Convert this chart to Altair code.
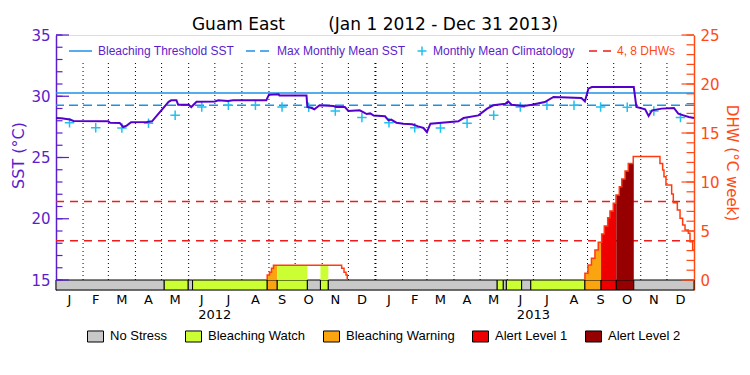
import altair as alt
import pandas as pd
from datetime import date

# ---------------- data ----------------
site = "Guam East"
period = "(Jan 1 2012 - Dec 31 2013)"

# SST (°C), day offset from Jan 1 2012
sst_day = [0, 6, 16, 20, 60, 62, 73, 77, 81, 86, 104, 110, 129, 132, 138, 140, 152, 155, 161, 182,
           186, 197, 203, 241, 244, 255, 256, 287, 288, 293, 296, 302, 318, 321, 331, 335, 348, 352,
           356, 360, 364, 377, 381, 384, 390, 398, 408, 415, 421, 425, 429, 442, 461, 467, 484, 494,
           501, 515, 518, 522, 536, 545, 560, 570, 602, 606, 610, 614, 662, 665, 675, 679, 683, 694,
           708, 713, 719, 725, 731]
sst_val = [28.22, 28.2, 28.1, 27.98, 27.95, 27.84, 27.82, 27.49, 27.6, 27.88, 27.9, 27.95, 29.55,
           29.67, 29.67, 29.3, 29.3, 29.12, 29.55, 29.58, 29.67, 29.62, 29.67, 29.67, 30.13, 30.16,
           30.07, 30.07, 29.12, 29.04, 28.93, 29.26, 29.2, 29.12, 29.12, 28.8, 28.85, 28.71, 28.55,
           28.6, 28.42, 28.36, 28.03, 28.1, 27.84, 27.76, 27.71, 27.54, 27.41, 27.08, 27.76, 27.84,
           27.95, 28.22, 28.44, 28.99, 29.26, 29.39, 29.58, 29.31, 29.2, 29.31, 29.53, 29.94, 29.86,
           29.58, 30.62, 30.75, 30.75, 29.12, 28.93, 28.39, 28.85, 28.99, 29.04, 28.58, 28.44, 28.31,
           28.22]

# monthly mean climatology (Jan..Dec)
clim_val = [27.84, 27.42, 27.41, 27.8, 28.44, 29.12, 29.26, 29.26, 29.12, 29.1, 28.8, 28.27]
mmm = 29.26
threshold = 30.26
dhw_levels = [4, 8]

# Degree heating weeks, step series
dhw12_day = [242, 242, 244.6, 246.9, 249.2, 327.3, 330, 332.3, 333.7]
dhw12_val = [0, 0.5, 0.8, 1.2, 1.5, 1.2, 0.8, 0.5, 0]
dhw13_day = [606, 606, 609.5, 613.5, 617.5, 621.3, 625.2, 628.2, 632.1, 634.7, 638.5, 641.6, 645.4,
             648.2, 652, 655.7, 661.4, 692, 695.1, 696.6, 698.9, 705.4, 707.3, 711.9, 715, 718,
             720.7, 724.5, 726.4, 729.5, 731]
dhw13_val = [0, 0.68, 1.53, 2.21, 3.06, 3.84, 4.69, 5.51, 6.36, 7.04, 7.82, 8.67, 9.52, 10.31,
             11.12, 11.9, 12.59, 11.9, 11.22, 10.54, 9.69, 8.78, 7.89, 7.14, 6.3, 5.61, 5.1, 4.77,
             3.91, 3.06, 3.06]

# stress level segments
stress_start = [0, 124, 151.5, 156.5, 242, 253.5, 288, 303, 312, 505.5, 512.5, 516, 533.5, 544,
                606, 624.5, 642, 662]
stress_cat = ["No Stress", "Bleaching Watch", "No Stress", "Bleaching Watch", "Bleaching Warning",
              "Bleaching Watch", "No Stress", "Bleaching Watch", "No Stress", "Bleaching Watch",
              "No Stress", "Bleaching Watch", "No Stress", "Bleaching Watch", "Bleaching Warning",
              "Alert Level 1", "Alert Level 2", "No Stress"]
stress_end = stress_start[1:] + [731]

cats = ["No Stress", "Bleaching Watch", "Bleaching Warning", "Alert Level 1", "Alert Level 2"]
cat_colors = ["#C8C8C8", "#CCFF33", "#FAA50F", "#EE0000", "#960000"]

month_letters = ["J", "F", "M", "A", "M", "J", "J", "A", "S", "O", "N", "D"]
years = [2012, 2013]
sst_ticks_minor = list(range(15, 36))
sst_ticks_major = [15, 20, 25, 30, 35]
dhw_ticks_minor = list(range(0, 26))
dhw_ticks_major = [0, 5, 10, 15, 20, 25]

# ---------------- tables ----------------
t0 = date(2012, 1, 1)
m_start = [(date(y, m, 1) - t0).days for y in years for m in range(1, 13)] + [(date(2014, 1, 1) - t0).days]
months = pd.DataFrame({
    "mid": [(m_start[i] + m_start[i + 1]) / 2 for i in range(24)],
    "lab": month_letters * 2,
    "clim": clim_val * 2,
})
rules = pd.DataFrame({"day": m_start[1:24],
                      "w": [2 if d == (date(2013, 1, 1) - t0).days else 1 for d in m_start[1:24]]})
yrs = pd.DataFrame({"mid": [((date(y, 7, 1) - t0).days) for y in years], "lab": [str(y) for y in years]})

sst_df = pd.DataFrame({"day": sst_day, "sst": sst_val})
stress_df = pd.DataFrame({"s": stress_start, "e": stress_end, "cat": stress_cat})

line_rows = []
for k, (dd, vv) in enumerate(((dhw12_day, dhw12_val), (dhw13_day, dhw13_val))):
    for i, (d, v) in enumerate(zip(dd, vv)):
        line_rows.append({"seg": k, "i": i, "day": d, "dhw": v})
dhw_line_df = pd.DataFrame(line_rows)

pieces = []
for dd, vv in ((dhw12_day, dhw12_val), (dhw13_day, dhw13_val)):
    for i in range(len(dd) - 1):
        a, b, v = dd[i], dd[i + 1], vv[i]
        if v <= 0 or b <= a:
            continue
        for s, e, c in zip(stress_start, stress_end, stress_cat):
            lo, hi = max(a, s), min(b, e)
            if hi > lo and c != "No Stress":
                pieces.append((lo, hi, v, c))
pieces.sort()
fill_rows, run, prev = [], -1, None
for lo, hi, v, c in pieces:
    if prev is None or c != prev[3] or abs(lo - prev[1]) > 1e-9:
        if prev is not None:
            fill_rows.append({"run": run, "day": prev[1], "dhw": prev[2], "cat": prev[3]})
        run += 1
    fill_rows.append({"run": run, "day": lo, "dhw": v, "cat": c})
    prev = (lo, hi, v, c)
if prev is not None:
    fill_rows.append({"run": run, "day": prev[1], "dhw": prev[2], "cat": prev[3]})
fill_df = pd.DataFrame(fill_rows)

# ---------------- styles ----------------
W, H = 638, 255
PURPLE = "#5500CC"
AXP = "#5A1ECC"
BLUE = "#1E90E6"
CYAN = "#20C0F0"
AXO = "#FF4A14"
DHWC = "#FF3C10"
REDD = "#EE1C1C"
FONT = "DejaVu Sans"
LFONT = "Liberation Sans"
PLUS = "M-1,0H1M0,-1V1"

x_scale = alt.Scale(domain=[0, 731], nice=False, zero=False)
sst_scale = alt.Scale(domain=[14.184, 35], nice=False, zero=False)
dhw_scale = alt.Scale(domain=[-1.0204, 25], nice=False, zero=False)

sst_axis = alt.Axis(orient="left", values=sst_ticks_major, ticks=False, grid=False, labelFlush=False,
                    domainColor=AXP, domainWidth=1.5, labelColor=AXP, labelFont=FONT, labelFontSize=15,
                    labelPadding=6, title="SST (°C)", titleColor=AXP, titleFont=FONT, titleFontSize=16,
                    titleFontWeight="normal", titlePadding=4, titleY=120, format="d")
dhw_axis = alt.Axis(orient="right", values=dhw_ticks_major, ticks=False, grid=False, labelFlush=False,
                    domainColor=AXO, domainWidth=1.5, labelColor=AXO, labelFont=FONT, labelFontSize=15,
                    labelPadding=6, title="DHW (°C week)", titleColor=AXO, titleFont=FONT,
                    titleFontSize=15, titleFontWeight="normal", titleAngle=90, titlePadding=4, format="d")

X = lambda f: alt.X(f, scale=x_scale, axis=None)
color_enc = alt.Color("cat:N", scale=alt.Scale(domain=cats, range=cat_colors),
                      legend=alt.Legend(title=None, orient="none", legendX=31, legendY=292.5,
                                        direction="horizontal", columns=5,
                                        symbolType="M-1,-0.69H1V0.69H-1Z", symbolSize=256,
                                        symbolStrokeColor="black", symbolStrokeWidth=1, symbolOpacity=1,
                                        labelFont=LFONT, labelFontSize=13, labelColor="black",
                                        labelOffset=6, columnPadding=15, padding=0))

one = pd.DataFrame({"k": [0]})


def seg(x0, x1, y, color, dash=None, width=1.5):
    kw = {"color": color, "strokeWidth": width}
    if dash:
        kw["strokeDash"] = dash
    return alt.Chart(one).mark_rule(**kw).encode(x=alt.value(x0), x2=alt.value(x1), y=alt.value(y))


def label(txt, x, color):
    return alt.Chart(one).mark_text(text=txt, align="left", baseline="middle", font=LFONT,
                                    fontSize=12, color=color).encode(x=alt.value(x), y=alt.value(16))


# ---------------- SST layers ----------------
thr = alt.Chart(pd.DataFrame({"v": [threshold]})).mark_rule(color=BLUE, strokeWidth=1.5).encode(
    y=alt.Y("v:Q", scale=sst_scale, axis=sst_axis))
mm = alt.Chart(pd.DataFrame({"v": [mmm]})).mark_rule(color=BLUE, strokeWidth=1.5, strokeDash=[9, 5]).encode(
    y=alt.Y("v:Q", scale=sst_scale, axis=sst_axis))
clim = alt.Chart(months).mark_point(shape=PLUS, size=90, filled=False, strokeWidth=1.5, color=CYAN,
                                    opacity=1).encode(
    x=X("mid:Q"), y=alt.Y("clim:Q", scale=sst_scale, axis=sst_axis))
sst_line = alt.Chart(sst_df).mark_line(color=PURPLE, strokeWidth=2).encode(
    x=X("day:Q"), y=alt.Y("sst:Q", scale=sst_scale, axis=sst_axis))
bar = alt.Chart(stress_df).mark_rect(stroke="black", strokeWidth=1).encode(
    x=X("s:Q"), x2="e:Q", y=alt.value(245), y2=alt.value(255), color=color_enc)
lt_min = alt.Chart(pd.DataFrame({"t": sst_ticks_minor})).mark_rule(color=AXP, strokeWidth=1.2).encode(
    y=alt.Y("t:Q", scale=sst_scale, axis=sst_axis), x=alt.value(0), x2=alt.value(6.5))
lt_maj = alt.Chart(pd.DataFrame({"t": sst_ticks_major})).mark_rule(color=AXP, strokeWidth=1.2).encode(
    y=alt.Y("t:Q", scale=sst_scale, axis=sst_axis), x=alt.value(0), x2=alt.value(13))

mlab = alt.Chart(months).mark_text(font=FONT, fontSize=13, color="black", baseline="middle").encode(
    x=X("mid:Q"), y=alt.value(265), text="lab:N")
ylab = alt.Chart(yrs).mark_text(font=FONT, fontSize=13, color="black", baseline="middle").encode(
    x=X("mid:Q"), y=alt.value(280), text="lab:N")

leg_plus = alt.Chart(one).mark_point(shape=PLUS, size=80, filled=False, strokeWidth=1.5, color=CYAN,
                                     opacity=1).encode(x=alt.value(366), y=alt.value(16))
top_legend = [
    seg(13, 36, 16, BLUE), label("Bleaching Threshold SST", 42, AXP),
    seg(190, 214, 16, BLUE, [9, 5]), label("Max Monthly Mean SST", 221, AXP),
    leg_plus, label("Monthly Mean Climatology", 377, AXP),
    seg(533, 556, 16, REDD, [8, 6]), label("4, 8 DHWs", 561, AXO),
]

sst_layer = alt.layer(thr, mm, clim, sst_line, bar, lt_min, lt_maj, mlab, ylab, *top_legend)

# ---------------- DHW layers ----------------
lvl = alt.Chart(pd.DataFrame({"v": dhw_levels})).mark_rule(color=REDD, strokeWidth=1.5,
                                                           strokeDash=[8, 6]).encode(
    y=alt.Y("v:Q", scale=dhw_scale, axis=dhw_axis))
fill = alt.Chart(fill_df).mark_area(interpolate="step-after", opacity=1).encode(
    x=X("day:Q"), y=alt.Y("dhw:Q", scale=dhw_scale, axis=dhw_axis, stack=None),
    color=color_enc, detail="run:N")
mrules = alt.Chart(rules).mark_rule(color="black", strokeDash=[1, 3]).encode(
    x=X("day:Q"), y=alt.value(28), y2=alt.value(245),
    strokeWidth=alt.StrokeWidth("w:Q", scale=None, legend=None))
dline = alt.Chart(dhw_line_df).mark_line(interpolate="step-after", color=DHWC, strokeWidth=1.5).encode(
    x=X("day:Q"), y=alt.Y("dhw:Q", scale=dhw_scale, axis=dhw_axis), detail="seg:N", order="i:Q")
rt_min = alt.Chart(pd.DataFrame({"t": dhw_ticks_minor})).mark_rule(color=AXO, strokeWidth=1.2).encode(
    y=alt.Y("t:Q", scale=dhw_scale, axis=dhw_axis), x=alt.value(W), x2=alt.value(W - 7.5))
rt_maj = alt.Chart(pd.DataFrame({"t": dhw_ticks_major})).mark_rule(color=AXO, strokeWidth=1.2).encode(
    y=alt.Y("t:Q", scale=dhw_scale, axis=dhw_axis), x=alt.value(W), x2=alt.value(W - 12.5))

dhw_layer = alt.layer(lvl, mrules, fill, dline, rt_min, rt_maj)

chart = alt.layer(sst_layer, dhw_layer).resolve_scale(y="independent").properties(
    width=W, height=H,
    title=alt.TitleParams(text=site + "\u00a0" * 8 + period, font=FONT, fontSize=17,
                          fontWeight="normal", color="black", anchor="middle", frame="group", offset=-6),
    autosize=alt.AutoSizeParams(type="none"),
    padding={"left": 48, "top": 27, "right": 48, "bottom": 60},
).configure_view(stroke="black", strokeWidth=1).configure(background="white")

chart.save("out.html", embed_options={"renderer": "svg", "actions": False})
